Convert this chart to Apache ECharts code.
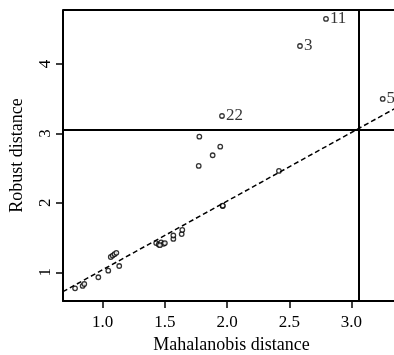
<!DOCTYPE html>
<html><head><meta charset="utf-8">
<script src="https://cdn.jsdelivr.net/npm/echarts@6/dist/echarts.min.js"></script>
<style>html,body{margin:0;padding:0;background:#fff}#c{width:394px;height:355px}</style>
</head><body><div id="c"></div>
<script>
// Mahalanobis distance (x) vs robust distance (y)
const mahal = [0.778,0.839,0.852,0.965,1.045,1.133,1.065,1.08,1.095,1.11,1.43,1.45,1.47,1.49,1.46,1.50,1.568,1.568,1.635,1.64,1.965,1.965,2.417,1.772,1.777,1.884,1.945];
const robust = [0.769,0.803,0.831,0.928,1.023,1.09,1.22,1.24,1.26,1.28,1.42,1.40,1.43,1.41,1.39,1.42,1.48,1.53,1.55,1.61,1.955,1.96,2.46,2.532,2.954,2.686,2.81];
const labelledNames = ["11","3","22","5"];
const labelledX = [2.795,2.586,1.959,3.251];
const labelledY = [4.65,4.26,3.252,3.497];
const cutoff = 3.057;
const fitX = [0.68,3.39];
const fitY = [0.72,3.40];
const xTicks = [1.0,1.5,2.0,2.5,3.0];
const yTicks = [1,2,3,4];

const font = '"Liberation Serif","DejaVu Serif",serif';
const chart = echarts.init(document.getElementById('c'));
chart.setOption({
  animation:false,
  grid:{left:63,top:10,width:337,height:291,show:false,containLabel:false,outerBoundsMode:'none'},
  xAxis:{type:'value',min:0.681,max:3.39,
    name:'Mahalanobis distance',nameLocation:'middle',nameGap:32,
    nameTextStyle:{fontFamily:font,fontSize:18,color:'#000'},
    axisLine:{show:true,onZero:false,lineStyle:{color:'#000',width:2}},
    axisTick:{show:true,length:7,lineStyle:{color:'#000',width:1.5},customValues:xTicks},
    axisLabel:{margin:13,fontFamily:font,fontSize:17,color:'#000',customValues:xTicks,formatter:v=>v.toFixed(1)},
    splitLine:{show:false}},
  yAxis:{type:'value',min:0.586,max:4.779,
    name:'Robust distance',nameLocation:'middle',nameGap:37,nameRotate:90,
    nameTextStyle:{fontFamily:font,fontSize:18,color:'#000'},
    axisLine:{show:true,onZero:false,lineStyle:{color:'#000',width:2}},
    axisTick:{show:true,length:7,lineStyle:{color:'#000',width:1.5},customValues:yTicks},
    axisLabel:{margin:9,rotate:90,fontFamily:font,fontSize:17,color:'#000',customValues:yTicks,formatter:v=>String(v)},
    splitLine:{show:false}},
  graphic:[{type:'line',shape:{x1:63,y1:10,x2:394,y2:10},style:{stroke:'#000',lineWidth:2}}],
  series:[
    {type:'line',data:fitX.map((x,i)=>[x,fitY[i]]),symbol:'none',silent:true,
     lineStyle:{color:'#000',width:1.5,type:[5,3]},
     markLine:{symbol:'none',silent:true,label:{show:false},lineStyle:{color:'#000',width:2,type:'solid'},
       data:[{xAxis:cutoff},{yAxis:cutoff}]}},
    {type:'scatter',data:mahal.map((x,i)=>[x,robust[i]]),symbol:'circle',symbolSize:4.5,
     itemStyle:{color:'#fff',borderColor:'#000',borderWidth:1.3}},
    {type:'scatter',data:labelledX.map((x,i)=>({value:[x,labelledY[i]],name:labelledNames[i]})),symbol:'circle',symbolSize:4.5,
     itemStyle:{color:'#fff',borderColor:'#000',borderWidth:1.3},
     label:{show:true,position:'right',distance:1,formatter:p=>p.name,fontFamily:font,fontSize:17,color:'#000'}}
  ]
});
</script></body></html>
